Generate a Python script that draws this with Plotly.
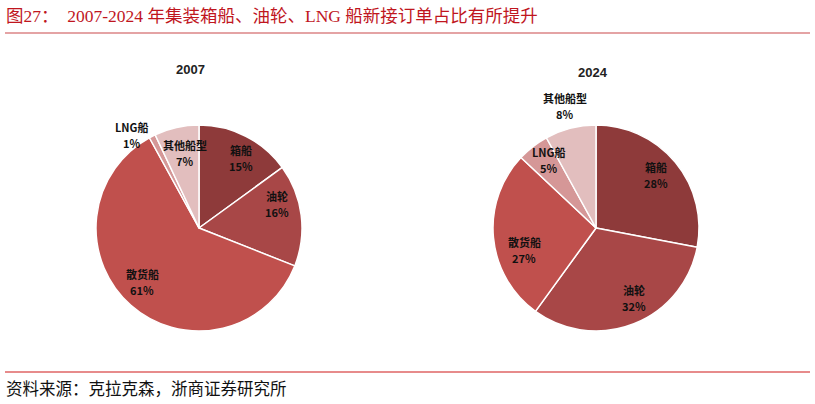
import math
import plotly.graph_objects as go

W, H = 815, 404

categories = ["箱船", "油轮", "散货船", "LNG船", "其他船型"]
share_2007 = [15, 16, 61, 1, 7]
share_2024 = [28, 32, 27, 5, 8]
years = ["2007", "2024"]

colors = ["#8E3A3A", "#A84747", "#C0504D", "#D59797", "#E2BEBE"]
# label placement: radial factor (fraction of radius) and angular nudge (degrees)
label_r_2007 = [0.79, 0.79, 0.76, 1.12, 0.74]
label_a_2007 = [4, -10, 5, -9, 2]
label_r_2024 = [0.78, 0.77, 0.73, 0.80, 1.22]
label_a_2024 = [-2, -7, -12, 3, 0]

# pie geometry in pixels (center x, center y, radius)
pies = [(199, 228, 103), (596, 228, 103)]
year_pos = [(190, 70), (593, 73)]
LINE_GAP = 8  # half distance between the name line and the percent line

fig = go.Figure()
annotations = []
for (cx, cy, R), vals, lr, la, yr, (yx, yy) in zip(
        pies, [share_2007, share_2024], [label_r_2007, label_r_2024],
        [label_a_2007, label_a_2024], years, year_pos):
    fig.add_trace(go.Pie(
        labels=categories, values=vals, sort=False, direction="clockwise",
        rotation=0, textinfo="none", hoverinfo="label+percent",
        marker=dict(colors=colors, line=dict(color="white", width=1.5)),
        domain=dict(x=[(cx - R) / W, (cx + R) / W],
                    y=[1 - (cy + R) / H, 1 - (cy - R) / H]),
        showlegend=False,
    ))
    total = sum(vals)
    cum = 0
    for cat, v, f, da in zip(categories, vals, lr, la):
        mid = (cum + v / 2) / total * 2 * math.pi + math.radians(da)
        cum += v
        px = cx + f * R * math.sin(mid)
        py = cy - f * R * math.cos(mid)
        for txt, off in ((cat, -LINE_GAP), (f"{v}%", LINE_GAP)):
            annotations.append(dict(
                x=px / W, y=1 - (py + off) / H, xref="paper", yref="paper",
                xanchor="center", yanchor="middle",
                text=f"<b>{txt}</b>", showarrow=False,
                font=dict(family="Noto Sans CJK SC", size=11, color="#111111"),
            ))
    annotations.append(dict(x=yx / W, y=1 - yy / H, xref="paper", yref="paper",
                            xanchor="center", yanchor="middle",
                            text=f"<b>{yr}</b>", showarrow=False,
                            font=dict(family="Liberation Sans", size=13, color="#222222")))

# figure title and source
annotations.append(dict(x=4 / W, y=1 - 16 / H, xref="paper", yref="paper",
                        xanchor="left", yanchor="middle",
                        text="图27：  2007-2024 年集装箱船、油轮、LNG 船新接订单占比有所提升",
                        showarrow=False,
                        font=dict(family="Liberation Serif, Noto Sans CJK SC", size=17.5, color="#C0161E")))
annotations.append(dict(x=4 / W, y=1 - 389 / H, xref="paper", yref="paper",
                        xanchor="left", yanchor="middle",
                        text="资料来源：克拉克森，浙商证券研究所",
                        showarrow=False,
                        font=dict(family="Liberation Serif, Noto Sans CJK SC", size=16.5, color="#111111")))

shapes = [
    dict(type="line", xref="paper", yref="paper", x0=5 / W, x1=810 / W,
         y0=1 - 33 / H, y1=1 - 33 / H, line=dict(color="#C9484A", width=1.2)),
    dict(type="line", xref="paper", yref="paper", x0=5 / W, x1=810 / W,
         y0=1 - 372 / H, y1=1 - 372 / H, line=dict(color="#D01818", width=1.2)),
]

fig.update_layout(
    width=W, height=H, margin=dict(l=0, r=0, t=0, b=0),
    paper_bgcolor="white", plot_bgcolor="white",
    annotations=annotations, shapes=shapes,
)

fig.write_html("out.html", config={"displayModeBar": False},
               post_script="document.body.style.margin='0px';document.body.style.overflow='hidden';")
